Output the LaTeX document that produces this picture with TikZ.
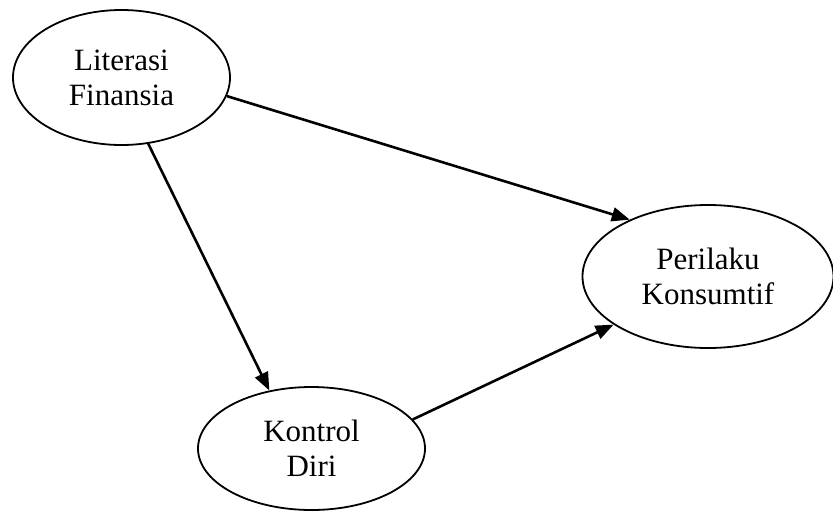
\documentclass[tikz,border=0pt]{standalone}
\usepackage{fontspec}
\setmainfont{Liberation Serif}
\usetikzlibrary{shapes.geometric,arrows.meta}
\begin{document}
\begin{tikzpicture}[x=1pt,y=-1pt,
  var/.style={ellipse,draw,line width=1.8pt,inner sep=0pt,align=center,
    font=\fontsize{31}{35}\selectfont},
  link/.style={line width=2.6pt,-{Triangle[length=18pt,width=14pt]}}]
  \useasboundingbox (0,0) rectangle (833,512);
  \node[var,minimum width=217pt,minimum height=135pt] (lit) at (121.5,77.5) {Literasi\\Finansia};
  \node[var,minimum width=251pt,minimum height=143pt] (per) at (708,276.5) {Perilaku\\Konsumtif};
  \node[var,minimum width=227pt,minimum height=123pt] (kon) at (311.5,448.5) {Kontrol\\Diri};
  \draw[link] (lit.-10) -- (per.144);
  \draw[link] (lit.-68) -- (kon.126);
  \draw[link] (kon.16) -- (per.-153);
\end{tikzpicture}
\end{document}
